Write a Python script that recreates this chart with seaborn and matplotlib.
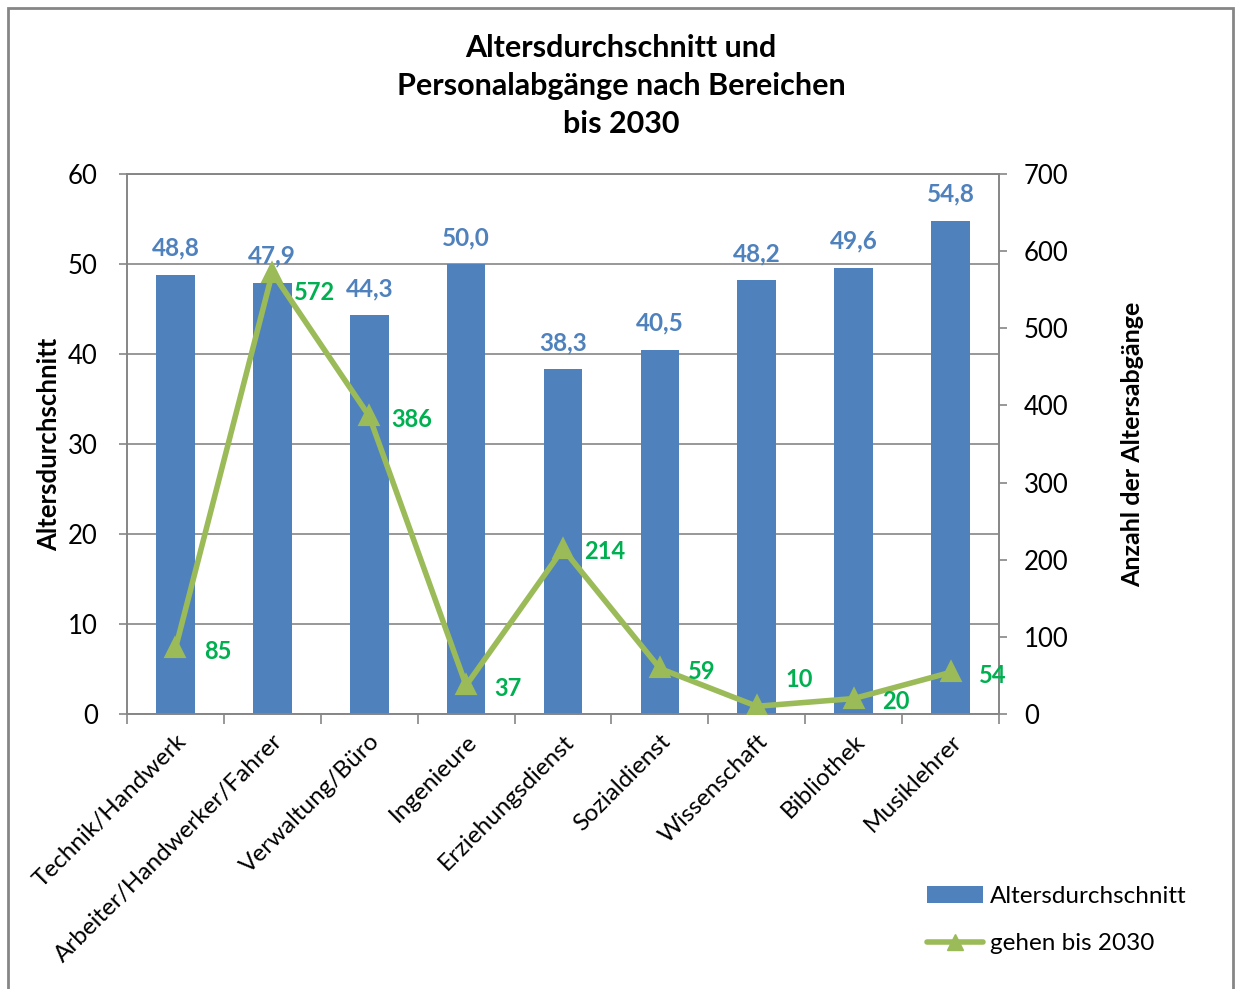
import matplotlib
matplotlib.use("Agg")
import matplotlib.pyplot as plt
import seaborn as sns
import pandas as pd
import numpy as np
from matplotlib.patches import Rectangle
from matplotlib.lines import Line2D
from matplotlib.patches import Patch

categories = ["Technik/Handwerk", "Arbeiter/Handwerker/Fahrer", "Verwaltung/Büro",
              "Ingenieure", "Erziehungsdienst", "Sozialdienst", "Wissenschaft",
              "Bibliothek", "Musiklehrer"]
alter = [48.8, 47.9, 44.3, 50.0, 38.3, 40.5, 48.2, 49.6, 54.8]
abgaenge = [85, 572, 386, 37, 214, 59, 10, 20, 54]

BLUE = "#4F81BD"
GREEN = "#9BBB59"
LGREEN = "#00B050"
GRAY = "#868686"

sns.set_theme(style="white")
plt.rcParams['font.family'] = ['Lato', 'DejaVu Sans']
plt.rcParams['text.color'] = 'black'
plt.rcParams['axes.labelcolor'] = 'black'
plt.rcParams['xtick.color'] = 'black'
plt.rcParams['ytick.color'] = 'black'

df = pd.DataFrame({"Bereich": categories, "Alter": alter, "Abgaenge": abgaenge})

fig = plt.figure(figsize=(12.37, 9.89), dpi=100)
ax = fig.add_axes([127/1237, 1 - 714/989, (999-127)/1237, (714-174)/989])

sns.barplot(data=df, x="Bereich", y="Alter", color=BLUE, width=0.4, saturation=1,
            ax=ax, zorder=3, edgecolor="none")
ax.set_ylim(0, 60)
ax.set_xlim(-0.5, len(categories) - 0.5)
ax.set_yticks(np.arange(0, 61, 10))
ax.yaxis.grid(True, color=GRAY, linewidth=1.2, zorder=0)
ax.set_axisbelow(True)
for s in ax.spines.values():
    s.set_color(GRAY)
    s.set_linewidth(1.2)
ax.tick_params(axis="y", which="both", direction="out", length=6, color=GRAY,
               width=1.2, labelsize=18.5, pad=15, left=True, labelcolor="black")
ax.set_xticks(range(len(categories)))
ax.set_xticklabels(categories, rotation=45, ha="right", rotation_mode="anchor",
                   fontsize=17.5)
ax.tick_params(axis="x", which="major", length=0, pad=12, labelcolor="black")
ax.set_xticks(np.arange(-0.5, len(categories), 1.0), minor=True)
ax.tick_params(axis="x", which="minor", direction="out", length=7, color=GRAY,
               width=1.2, bottom=True)
ax.set_xlabel("")
ax.set_ylabel("Altersdurchschnitt", fontsize=18.5, fontweight="bold", labelpad=5,
              color="black")

for i, v in enumerate(alter):
    ax.annotate(f"{v:.1f}".replace(".", ","), (i, v), xytext=(0, 15),
                textcoords="offset pixels", ha="center", va="bottom",
                color=BLUE, fontsize=17.5, fontweight="bold", zorder=6)

ax2 = ax.twinx()
sns.pointplot(data=df, x="Bereich", y="Abgaenge", color=GREEN, markers="^",
              linestyles="-", ax=ax2, markersize=11, linewidth=4, zorder=5)
ax2.set_ylim(0, 700)
ax2.set_xlim(-0.5, len(categories) - 0.5)
ax2.set_yticks(np.arange(0, 701, 100))
ax2.grid(False)
for s in ax2.spines.values():
    s.set_color(GRAY)
    s.set_linewidth(1.2)
ax2.tick_params(axis="y", direction="out", length=6, color=GRAY, width=1.2,
                labelsize=18.5, pad=12, right=True, labelcolor="black")
ax2.set_ylabel("Anzahl der Altersabgänge", fontsize=18, fontweight="bold",
               labelpad=38, color="black")
ax2.set_xlabel("")

label_dy = {572: -20, 10: 27}
for i, v in enumerate(abgaenge):
    dy = label_dy.get(v, -3)
    ax2.annotate(str(v), (i, v), xytext=(42, dy), textcoords="offset pixels",
                 ha="center", va="center", color=LGREEN, fontsize=17,
                 fontweight="bold", zorder=7)

fig.text(621/1237, 1 - 86/989, "Altersdurchschnitt und\nPersonalabgänge nach Bereichen\nbis 2030",
         ha="center", va="center", fontsize=22, fontweight="bold", linespacing=1.42,
         color="black")

handles = [Patch(facecolor=BLUE, edgecolor="none"),
           Line2D([0], [0], color=GREEN, linewidth=4, marker="^", markersize=11)]
leg = fig.legend(handles, ["Altersdurchschnitt", "gehen bis 2030"],
                 loc="center left", bbox_to_anchor=(905/1237, 1 - 920/989),
                 frameon=False, fontsize=17.5, handlelength=2.3, labelspacing=1.1,
                 handletextpad=0.3)
for t in leg.get_texts():
    t.set_color("black")

fig.patches.append(Rectangle((8/1237, -0.05), (1233-8)/1237, 1.05 - 8/989,
                             transform=fig.transFigure, fill=False,
                             edgecolor=GRAY, linewidth=2))

fig.savefig("out.png", dpi=100)
